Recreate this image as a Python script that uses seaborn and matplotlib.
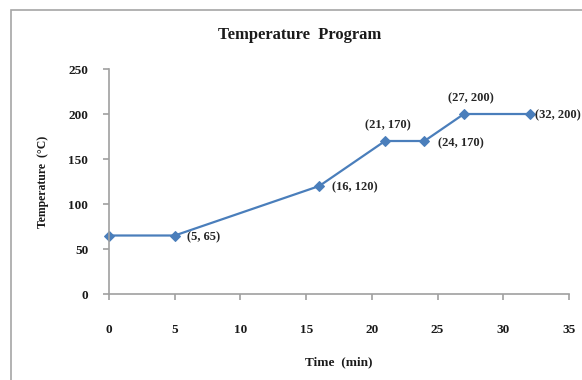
import matplotlib
matplotlib.use("Agg")
import matplotlib.pyplot as plt
from matplotlib.patches import Rectangle
import seaborn as sns
import pandas as pd

time_min = [0, 5, 16, 21, 24, 27, 32]
temp_c = [65, 65, 120, 170, 170, 200, 200]
x_ticks = [0, 5, 10, 15, 20, 25, 30, 35]
y_ticks = [0, 50, 100, 150, 200, 250]

# label placement for each point (offset in points, alignment)
label_offsets = {
    (5, 65): (9, -1.5, "left", "center"),
    (16, 120): (9, -1, "left", "center"),
    (21, 170): (2, 11.5, "center", "center"),
    (24, 170): (10, -1.5, "left", "center"),
    (27, 200): (5, 11, "center", "center"),
    (32, 200): (4, -1, "left", "center"),
}

sns.set_style("white")
plt.rcParams["font.family"] = ["Liberation Serif", "DejaVu Serif"]
plt.rcParams["font.weight"] = "bold"

df = pd.DataFrame({"Time": time_min, "Temp": temp_c})

fig = plt.figure(figsize=(5.82, 3.80), dpi=100)
ax = fig.add_axes([0.1873, 0.2263, 0.7904, 0.5921])

# chart area frame
fig.patches.append(Rectangle((11 / 582, -0.1), 1.2, 1 - 10 / 380 + 0.1,
                             transform=fig.transFigure, fill=False,
                             edgecolor="#a6a6a6", linewidth=1.2))

sns.lineplot(data=df, x="Time", y="Temp", ax=ax, color="#4A7EBB",
             linewidth=1.6, marker="D", markersize=5,
             markeredgecolor="#4A7EBB", clip_on=False)

for x, y in zip(time_min, temp_c):
    spec = label_offsets.get((x, y))
    if spec is None:
        continue
    dx, dy, ha, va = spec
    ax.annotate(f"({x}, {y})", (x, y), xytext=(dx, dy),
                textcoords="offset points", ha=ha, va=va,
                fontsize=9, fontweight="bold", color="#262626",
                annotation_clip=False)

ax.set_xlim(0, 35)
ax.set_ylim(0, 250)
ax.set_xticks(x_ticks)
ax.set_yticks(y_ticks)
ax.set_xticklabels([str(t) for t in x_ticks], fontsize=9.5, fontweight="bold")
ax.set_yticklabels([str(t) for t in y_ticks], fontsize=9.5, fontweight="bold")

for s in ("top", "right"):
    ax.spines[s].set_visible(False)
for s in ("left", "bottom"):
    ax.spines[s].set_color("#a0a0a0")
    ax.spines[s].set_linewidth(1.2)

ax.tick_params(axis="x", direction="out", length=4.5, width=1.2, color="#a0a0a0",
               pad=17, labelcolor="#1a1a1a")
ax.tick_params(axis="y", direction="out", length=4.5, width=1.2, color="#a0a0a0",
               pad=10.5, labelcolor="#1a1a1a")
ax.tick_params(bottom=True, left=True)

ax.set_xlabel("Time  (min)", fontsize=9.5, fontweight="bold", color="#1a1a1a",
              va="center")
ax.xaxis.set_label_coords(0.5, -0.302)
ax.set_ylabel("Temperature  (\u00b0C)", fontsize=8.5, fontweight="bold",
              color="#1a1a1a", va="center")
ax.yaxis.set_label_coords(-0.1435, 0.5)
fig.text(300 / 582, 1 - 35 / 380, "Temperature  Program", ha="center",
         va="center", fontsize=12, fontweight="bold", color="#1a1a1a")

fig.savefig("out.png", dpi=100)
